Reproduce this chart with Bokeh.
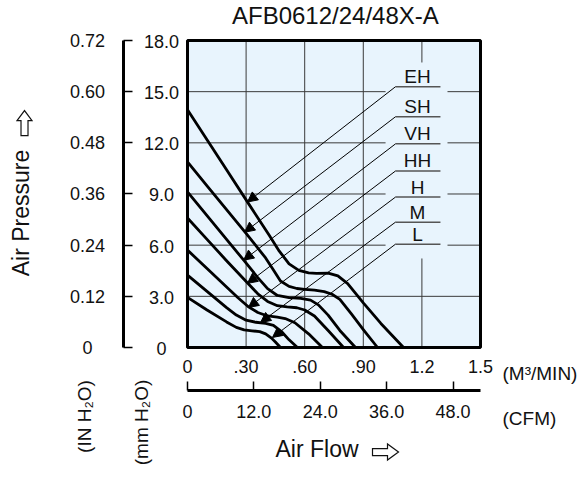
import math
from bokeh.plotting import figure
from bokeh.models import (Range1d, LinearAxis, FixedTicker, Arrow, NormalHead,
                          ColumnDataSource)
from bokeh.core.properties import value
from bokeh.embed import file_html
from bokeh.resources import INLINE

# ---------------- data ----------------
TITLE = "AFB0612/24/48X-A"

flow_ticks = [0, 0.3, 0.6, 0.9, 1.2, 1.5]
flow_labels = ["0", ".30", ".60", ".90", "1.2", "1.5"]
cfm_ticks = [0, 12, 24, 36, 48]
cfm_labels = ["0", "12.0", "24.0", "36.0", "48.0"]
mm_ticks = [0, 3, 6, 9, 12, 15, 18]
mm_labels = ["0", "3.0", "6.0", "9.0", "12.0", "15.0", "18.0"]
in_ticks = [0, 0.12, 0.24, 0.36, 0.48, 0.6, 0.72]
in_labels = ["0", "0.12", "0.24", "0.36", "0.48", "0.60", "0.72"]
FLOW_MAX = 1.5      # m3/min
CFM_AT_MAX = 52.97  # 1.5 m3/min expressed in CFM
MM_MAX = 18.0       # mmH2O
IN_AT_MAX = 0.72    # inH2O printed at 18 mmH2O

speeds = ["EH", "SH", "VH", "HH", "H", "M", "L"]

# air flow (m3/min) / static pressure (mmH2O) for each speed
eh_x = [0, 0.10, 0.20, 0.31, 0.42, 0.47, 0.52, 0.57, 0.62, 0.66, 0.72, 0.77, 0.82, 0.90, 0.99, 1.106]
eh_y = [13.94, 12.18, 10.42, 8.48, 6.55, 5.65, 4.90, 4.52, 4.38, 4.35, 4.36, 4.20, 3.75, 2.62, 1.41, 0]
sh_x = [0, 0.10, 0.20, 0.30, 0.40, 0.44, 0.476, 0.52, 0.56, 0.60, 0.65, 0.70, 0.74, 0.78, 0.84, 0.90, 0.973]
sh_y = [10.88, 9.48, 8.09, 6.69, 5.25, 4.55, 3.90, 3.58, 3.46, 3.41, 3.36, 3.28, 3.12, 2.82, 1.95, 1.05, 0]
vh_x = [0, 0.10, 0.20, 0.29, 0.36, 0.41, 0.46, 0.52, 0.58, 0.63, 0.67, 0.72, 0.78, 0.86]
vh_y = [9.12, 7.73, 6.34, 5.09, 4.10, 3.45, 3.05, 2.92, 2.88, 2.78, 2.50, 1.90, 1.00, 0]
hh_x = [0, 0.10, 0.20, 0.31, 0.36, 0.41, 0.46, 0.51, 0.56, 0.60, 0.65, 0.72, 0.799]
hh_y = [7.59, 6.34, 5.09, 3.75, 3.15, 2.70, 2.45, 2.38, 2.33, 2.20, 1.85, 1.00, 0]
h_x = [0, 0.10, 0.20, 0.26, 0.31, 0.36, 0.41, 0.46, 0.50, 0.55, 0.62, 0.691]
h_y = [5.71, 4.63, 3.55, 2.90, 2.40, 2.05, 1.85, 1.78, 1.70, 1.45, 0.80, 0]
m_x = [0, 0.10, 0.20, 0.25, 0.30, 0.35, 0.40, 0.44, 0.48, 0.52, 0.563]
m_y = [4.24, 3.29, 2.34, 1.90, 1.60, 1.48, 1.42, 1.30, 0.95, 0.45, 0]
l_x = [0, 0.10, 0.20, 0.25, 0.29, 0.33, 0.37, 0.40, 0.43, 0.45, 0.476]
l_y = [2.94, 2.20, 1.50, 1.18, 1.03, 0.98, 0.93, 0.80, 0.55, 0.32, 0]

curves_x = [eh_x, sh_x, vh_x, hh_x, h_x, m_x, l_x]
curves_y = [eh_y, sh_y, vh_y, hh_y, h_y, m_y, l_y]

# speed tags: underline level (mmH2O) and arrow tip on the curve
tag_y = [15.29, 13.53, 11.94, 10.35, 8.82, 7.35, 6.06]
tip_x = [0.307, 0.292, 0.287, 0.307, 0.312, 0.374, 0.435]
tip_y = [8.53, 6.76, 5.12, 3.76, 2.35, 1.47, 0.59]

# ---------------- layout constants (styles / placement) ----------------
FONT = "Liberation Sans"
INK = "#111111"
W, H = 582, 496
X0, X1 = -0.9573, 2.0222      # whole canvas in m3/min
Y0, Y1 = -8.736, 20.345       # whole canvas in mmH2O
PX_X = W / (X1 - X0)          # pixels per m3/min
PX_Y = H / (Y1 - Y0)          # pixels per mmH2O
TAG_X0, TAG_X1, TAG_XC = 1.065, 1.295, 1.1775
IN_AXIS_X = -0.3277           # where the inH2O scale stands
IN_LABEL_X = -0.512           # centre of the inH2O numbers
MM_LABEL_X = -0.1331          # centre of the mmH2O numbers
CFM_AXIS_Y = -2.52            # where the CFM scale stands

p = figure(width=W, height=H, x_range=Range1d(X0, X1), y_range=Range1d(Y0, Y1),
           x_axis_type=None, y_axis_type=None, output_backend="svg",
           toolbar_location=None, min_border=0)
p.outline_line_color = None
p.background_fill_color = "white"
p.border_fill_color = "white"
p.xgrid.visible = False
p.ygrid.visible = False
k_in = IN_AT_MAX / MM_MAX
k_cfm = CFM_AT_MAX / FLOW_MAX
p.extra_y_ranges = {"inh2o": Range1d(Y0 * k_in, Y1 * k_in)}
p.extra_x_ranges = {"cfm": Range1d(X0 * k_cfm, X1 * k_cfm)}


def style_axis(ax):
    ax.major_label_text_font = FONT
    ax.major_label_text_font_size = "18px"
    ax.major_label_text_color = INK
    ax.minor_tick_line_color = None
    ax.minor_tick_in = 0
    ax.minor_tick_out = 0


# chart area
p.quad(left=[0], right=[FLOW_MAX], bottom=[0], top=[MM_MAX],
       fill_color="#e8f4fd", line_color=None)

# grid (broken where the speed tags sit)
GRID = "#3a3a3a"
gx0 = [0, 0, 1.331, 0, 1.331, 0, 1.331, 0, 1.331]
gx1 = [1.5, 1.014, 1.5, 1.014, 1.5, 1.014, 1.5, 1.014, 1.5]
gy = [3, 6, 6, 9, 9, 12, 12, 15, 15]
p.segment(x0=gx0, y0=gy, x1=gx1, y1=gy, line_color=GRID, line_width=1)
vx = [0.3, 0.6, 0.9, 1.2, 1.2]
vy0 = [0, 0, 0, 0, 16.71]
vy1 = [18, 18, 18, 5.22, 18]
p.segment(x0=vx, y0=vy0, x1=vx, y1=vy1, line_color=GRID, line_width=1)

# inH2O scale: bracket line and ticks from the axis, centred numbers as text
in_axis = LinearAxis(y_range_name="inh2o", ticker=FixedTicker(ticks=in_ticks),
                     bounds=(0, IN_AT_MAX),
                     major_label_overrides={t: "" for t in in_ticks},
                     fixed_location=IN_AXIS_X)
style_axis(in_axis)
in_axis.axis_line_width = 3
in_axis.axis_line_color = "black"
in_axis.major_tick_in = 9
in_axis.major_tick_out = 0
in_axis.major_tick_line_width = 1.5
in_axis.major_tick_line_color = "black"
in_axis.major_label_standoff = 0
p.add_layout(in_axis, "left")
p.text(x=[IN_LABEL_X] * len(in_ticks), y=in_ticks, text=in_labels,
       y_range_name="inh2o", text_align="center", text_baseline="middle",
       text_font=value(FONT), text_font_size="18px", text_color=INK)

# mmH2O numbers (the chart border is their axis line)
p.text(x=[MM_LABEL_X] * len(mm_ticks), y=mm_ticks, text=mm_labels,
       text_align="center", text_baseline="middle", y_offset=1,
       text_font=value(FONT), text_font_size="18px", text_color=INK)

flow_axis = LinearAxis(ticker=FixedTicker(ticks=flow_ticks), bounds=(0, FLOW_MAX),
                       major_label_overrides=dict(zip(flow_ticks, flow_labels)),
                       fixed_location=0)
style_axis(flow_axis)
flow_axis.axis_line_color = None
flow_axis.major_tick_line_color = None
flow_axis.major_tick_in = 0
flow_axis.major_tick_out = 0
flow_axis.major_label_standoff = 12
p.add_layout(flow_axis, "below")

cfm_axis = LinearAxis(x_range_name="cfm", ticker=FixedTicker(ticks=cfm_ticks),
                      bounds=(0, CFM_AT_MAX),
                      major_label_overrides=dict(zip(cfm_ticks, cfm_labels)),
                      fixed_location=CFM_AXIS_Y)
style_axis(cfm_axis)
cfm_axis.axis_line_width = 3
cfm_axis.axis_line_color = "black"
cfm_axis.major_tick_in = 9
cfm_axis.major_tick_out = 0
cfm_axis.major_tick_line_width = 1.5
cfm_axis.major_tick_line_color = "black"
cfm_axis.major_label_standoff = 15
p.add_layout(cfm_axis, "below")

# tag underlines, leader arrows, tag text
p.segment(x0=[TAG_X0] * 7, y0=tag_y, x1=[TAG_X1] * 7, y1=tag_y,
          line_color="#555555", line_width=1.5)
lead = ColumnDataSource(dict(x0=[TAG_X0] * 7, y0=tag_y, x1=tip_x, y1=tip_y))
p.add_layout(Arrow(end=NormalHead(size=10, fill_color="black", line_color="black",
                                  line_width=1),
                   x_start="x0", y_start="y0", x_end="x1", y_end="y1",
                   source=lead, line_color="black", line_width=1))
p.text(x=[TAG_XC] * 7, y=tag_y, text=speeds, text_align="center",
       text_baseline="middle", y_offset=-10, text_font=value(FONT),
       text_font_size="19px", text_color=INK)

# curves
p.multi_line(xs=curves_x, ys=curves_y, line_color="black", line_width=2.8,
             line_join="round")

# chart border
p.quad(left=[0], right=[FLOW_MAX], bottom=[0], top=[MM_MAX],
       fill_color=None, line_color="black", line_width=3)


# free texts
def txt(x, y, s, size, angle=0.0, align="center", font=FONT):
    p.text(x=[x], y=[y], text=[s], angle=angle, text_align=align,
           text_baseline="middle", text_font=value(font),
           text_font_size=size, text_color=INK)


def hollow_arrow(cx, cy, length, head_len, head_half, shaft_half, upward=False):
    u = [-length / 2, length / 2 - head_len, length / 2 - head_len, length / 2,
         length / 2 - head_len, length / 2 - head_len, -length / 2]
    v = [-shaft_half, -shaft_half, -head_half, 0, head_half, shaft_half, shaft_half]
    if upward:
        xs = [cx + b / PX_X for b in v]
        ys = [cy + a / PX_Y for a in u]
    else:
        xs = [cx + a / PX_X for a in u]
        ys = [cy + b / PX_Y for b in v]
    p.patch(xs, ys, fill_color="white", line_color=INK, line_width=1.2,
            line_join="miter")


txt(0.757, 19.47, TITLE, "24px")
txt(-0.850, 7.886, "Air Pressure", "23px", angle=math.pi / 2)
hollow_arrow(-0.8344, 13.16, 25, 10, 7.5, 3.5, upward=True)
txt(-0.5287, -4.045, "(IN H\u2082O)", "19px", angle=math.pi / 2)
txt(-0.2355, -4.397, "(mm H\u2082O)", "19px", angle=math.pi / 2)
txt(0.663, -5.98, "Air Flow", "23px")
hollow_arrow(1.0137, -6.13, 26, 11, 8, 3.5)
txt(1.6127, -1.524, "(M\u00b3/MIN)", "19px", align="left")
txt(1.6127, -4.163, "(CFM)", "19px", align="left")

open("out.html", "w").write(file_html(p, INLINE))
